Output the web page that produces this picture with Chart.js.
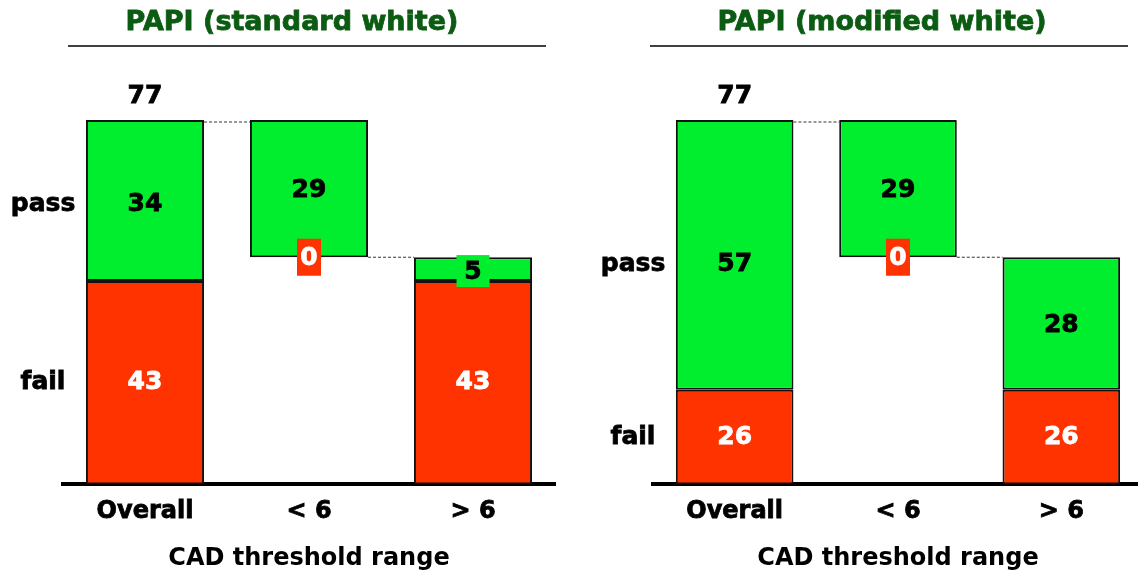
<!DOCTYPE html>
<html>
<head>
<meta charset="utf-8">
<script src="https://cdn.jsdelivr.net/npm/chart.js@4.4.0/dist/chart.umd.min.js"></script>
<style>
  body { margin: 0; background: #fff; overflow: hidden; }
  #wrap { position: relative; width: 1138px; height: 574px; overflow: hidden; }
  .panel { position: absolute; top: 0; }
</style>
</head>
<body>
<div id="wrap">
  <div class="panel" style="left:0"><canvas id="left" width="569" height="574"></canvas></div>
  <div class="panel" style="left:569px"><canvas id="right" width="581" height="574"></canvas></div>
</div>
<script>
// Data
const categories = ['Overall', '< 6', '> 6'];
const overallTotal = 77;

// PAPI (standard white)
const leftPass = [34, 29, 5];
const leftFail = [43, 0, 43];

// PAPI (modified white) - bars are drawn at these heights,
// but the printed fail numbers read 26
const rightPass = [57, 29, 28];
const rightFail = [20, 0, 20];
const rightFailPrinted = [26, 0, 26];

const GREEN = '#00ee2e';
const RED = '#ff3300';
const FONT = '"DejaVu Sans", Verdana, sans-serif';

// waterfall: the middle bar hangs down from the overall total
function ranges(pass, fail) {
  const base = [0, overallTotal - pass[1] - fail[1], 0];
  return {
    fail: fail.map((v, i) => [base[i], base[i] + v]),
    pass: pass.map((v, i) => [base[i] + fail[i], base[i] + fail[i] + v])
  };
}

// heavier text, closer to the Verdana bold of the original
function boldText(ctx, text, x, y, color) {
  ctx.fillStyle = color;
  ctx.strokeStyle = color;
  ctx.lineWidth = 0.8;
  ctx.fillText(text, x, y);
  ctx.strokeText(text, x, y);
}

function boxLabel(ctx, text, x, y, bg, fg, w, h) {
  ctx.fillStyle = bg;
  ctx.fillRect(x - w / 2, y - h / 2, w, h);
  boldText(ctx, text, x, y + 1, fg);
}

// titles, connectors and value labels
const decor = {
  id: 'decor',
  afterDatasetsDraw(chart, args, opts) {
    const ctx = chart.ctx;
    const area = chart.chartArea;
    const fails = chart.getDatasetMeta(0).data;
    const passes = chart.getDatasetMeta(1).data;
    ctx.save();

    // title + rule under it
    ctx.font = 'bold 27px ' + FONT;
    ctx.textAlign = 'center';
    ctx.textBaseline = 'middle';
    boldText(ctx, opts.title, opts.titleX, 23, '#0b5c12');
    ctx.strokeStyle = '#000';
    ctx.lineWidth = 1.5;
    ctx.beginPath();
    ctx.moveTo(opts.ruleFrom, 46);
    ctx.lineTo(opts.ruleTo, 46);
    ctx.stroke();

    // dashed connectors between bars
    const p0 = passes[0], p1 = passes[1], p2 = passes[2];
    ctx.setLineDash([3, 2]);
    ctx.lineWidth = 1;
    ctx.strokeStyle = '#333';
    ctx.beginPath();
    ctx.moveTo(p0.x + p0.width / 2, p0.y + 2);
    ctx.lineTo(p1.x - p1.width / 2, p1.y + 2);
    ctx.moveTo(p1.x + p1.width / 2, p1.base);
    ctx.lineTo(p2.x - p2.width / 2, p2.y);
    ctx.stroke();
    ctx.setLineDash([]);

    ctx.font = 'bold 25px ' + FONT;
    // total above the overall bar
    boldText(ctx, String(overallTotal), p0.x, p0.y - 24, '#000');

    // pass / fail row labels next to the overall bar
    const f0 = fails[0];
    const dy = opts.passShift;
    boldText(ctx, 'pass', area.left - 20, (p0.y + p0.base) / 2 + dy, '#000');
    boldText(ctx, 'fail', area.left - 20, (f0.y + f0.base) / 2, '#000');

    // numbers inside the bars
    opts.passLabels.forEach((v, i) => {
      const el = passes[i];
      const h = el.base - el.y;
      const y = (el.y + el.base) / 2;
      if (h < 30) boxLabel(ctx, String(v), el.x, y + 2, GREEN, '#000', 33, 32);
      else boldText(ctx, String(v), el.x, y + (i === 0 ? dy : 2), '#000');
    });
    opts.failLabels.forEach((v, i) => {
      const el = fails[i];
      if (v === 0) boxLabel(ctx, '0', el.x, el.y, RED, '#fff', 24, 37);
      else boldText(ctx, String(v), el.x, (el.y + el.base) / 2, '#fff');
    });
    ctx.restore();
  }
};

function makeChart(id, pass, fail, failPrinted, deco, pad) {
  const r = ranges(pass, fail);
  const axisFont = { family: FONT, size: 24, weight: 'bold' };
  return new Chart(document.getElementById(id), {
    type: 'bar',
    data: {
      labels: categories,
      datasets: [
        { label: 'fail', data: r.fail, backgroundColor: RED, borderColor: '#111',
          borderWidth: c => (fail[c.dataIndex] === 0 ? 0 : 2) },
        { label: 'pass', data: r.pass, backgroundColor: GREEN, borderColor: '#111', borderWidth: 2 }
      ]
    },
    options: {
      responsive: false,
      animation: false,
      devicePixelRatio: 1,
      layout: { padding: pad },
      datasets: { bar: { grouped: false, borderSkipped: false, barPercentage: 0.72, categoryPercentage: 1 } },
      plugins: {
        legend: { display: false },
        tooltip: { enabled: false },
        decor: Object.assign({ passLabels: pass, failLabels: failPrinted }, deco)
      },
      scales: {
        y: { display: false, min: 0, max: overallTotal },
        x: {
          grid: { display: false, drawTicks: false },
          border: { display: true, color: '#000', width: 4 },
          ticks: { color: '#000', font: axisFont, padding: 13, textStrokeColor: '#000', textStrokeWidth: 0.8 },
          title: { display: true, text: 'CAD threshold range', color: '#000', font: axisFont,
                   padding: { top: 5, bottom: 0 } }
        }
      }
    },
    plugins: [decor]
  });
}

makeChart('left', leftPass, leftFail, leftFail,
  { title: 'PAPI (standard white)', titleX: 292, ruleFrom: 68, ruleTo: 546, passShift: 4 },
  { left: 63, right: 14, top: 120, bottom: 1 });

makeChart('right', rightPass, rightFail, rightFailPrinted,
  { title: 'PAPI (modified white)', titleX: 313, ruleFrom: 81, ruleTo: 559, passShift: 10 },
  { left: 84, right: 7, top: 120, bottom: 1 });
</script>
</body>
</html>
